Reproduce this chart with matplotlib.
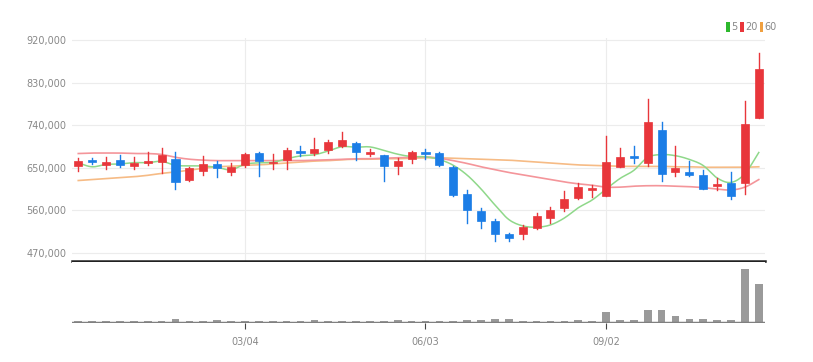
import matplotlib
matplotlib.use("Agg")
import matplotlib.pyplot as plt
from matplotlib.patches import Rectangle
import numpy as np
import pandas as pd

plt.rcParams['font.family'] = ['Liberation Sans Narrow', 'DejaVu Sans']

# weekly candles, prices in thousands of won
opens = [654, 666, 655, 667, 654, 659, 662, 668, 624, 644,
         657, 641, 656, 682, 659, 666, 685, 682, 688, 695,
         702, 678, 677, 654, 668, 684, 682, 652, 594, 559,
         537, 509, 509, 523, 543, 566, 587, 603, 590, 652,
         674, 660, 730, 640, 640, 635, 612, 617, 618, 754]
closes = [665, 662, 662, 655, 660, 664, 677, 619, 650, 658,
          650, 651, 678, 665, 663, 688, 681, 690, 705, 708,
          683, 684, 653, 665, 683, 680, 656, 592, 561, 537,
          511, 502, 525, 547, 561, 584, 610, 607, 662, 673,
          670, 747, 637, 650, 634, 605, 616, 590, 742, 858]
highs = [671, 670, 673, 677, 673, 683, 691, 684, 652, 675,
         664, 660, 681, 684, 680, 691, 695, 712, 709, 725,
         705, 689, 677, 670, 686, 689, 683, 653, 602, 566,
         541, 513, 529, 555, 568, 600, 617, 614, 718, 691,
         695, 795, 747, 695, 665, 645, 628, 640, 790, 893]
lows = [644, 657, 648, 652, 647, 655, 638, 605, 623, 635,
        631, 635, 652, 633, 647, 647, 675, 677, 681, 693,
        666, 675, 623, 637, 659, 668, 654, 590, 534, 522,
        496, 496, 499, 520, 533, 559, 583, 589, 590, 651,
        661, 654, 623, 633, 633, 605, 604, 585, 594, 754]

# moving averages (20 and 60 need history before the window)
ma5_head = [660, 652, 657, 658]
ma20 = [680, 681, 681, 681, 680, 680, 678, 672, 668, 666,
        665, 665, 665, 665, 665, 665, 665, 666, 667, 668,
        669, 669, 670, 671, 672, 673, 670, 665, 659, 652,
        646, 640, 635, 630, 625, 620, 616, 613, 609, 609,
        611, 612, 612, 611, 610, 608, 605, 603, 609, 625]
ma60 = [623, 625, 627, 629, 631, 634, 638, 641, 645, 649,
        652, 653, 655, 656, 658, 660, 662, 664, 665, 667,
        668, 668, 669, 669, 670, 671, 671, 670, 669, 668,
        667, 666, 664, 662, 660, 658, 656, 655, 654, 653,
        653, 653, 653, 652, 652, 651, 651, 651, 651, 652]

# volume, relative units
volume = [4, 4, 4, 4, 4, 4, 4.4, 7.5, 3, 4,
          5, 4, 4, 4, 4, 4.4, 4, 5, 4, 4,
          4, 4, 3, 5, 4, 4, 3, 4, 5, 5,
          7.5, 7.5, 4, 4, 4, 4, 5, 4, 20, 5,
          5, 25, 25, 13, 7.5, 7.5, 5, 5, 100, 73]

tick_pos = [12, 25, 38]
tick_labels = ['03/04', '06/03', '09/02']

up_color = '#e8363b'
down_color = '#1b7de6'
c5 = '#8fd88a'
c20 = '#f4959a'
c60 = '#f6bb85'

ma5 = pd.Series(closes).rolling(5).mean().to_numpy()
ma5[:4] = ma5_head

x = np.arange(len(closes))


def smooth(xs, ys, n=8):
    # catmull-rom curve through the points, only for drawing
    xs = np.asarray(xs, float)
    ys = np.asarray(ys, float)
    px = np.concatenate([[2 * xs[0] - xs[1]], xs, [2 * xs[-1] - xs[-2]]])
    py = np.concatenate([[2 * ys[0] - ys[1]], ys, [2 * ys[-1] - ys[-2]]])
    t = np.linspace(0, 1, n, endpoint=False)
    outx, outy = [], []
    for k in range(1, len(px) - 2):
        for p, out in ((px, outx), (py, outy)):
            p0, p1, p2, p3 = p[k - 1], p[k], p[k + 1], p[k + 2]
            out.extend(0.5 * (2 * p1 + (-p0 + p2) * t + (2 * p0 - 5 * p1 + 4 * p2 - p3) * t ** 2
                              + (-p0 + 3 * p1 - 3 * p2 + p3) * t ** 3))
    outx.append(xs[-1])
    outy.append(ys[-1])
    return outx, outy


fig = plt.figure(figsize=(8.13, 3.62), dpi=100)
ax = fig.add_axes([0.0886, 0.279, 0.8524, 0.616])
axv = fig.add_axes([0.0886, 0.1077, 0.8524, 0.1683])

ax.plot(*smooth(x, ma60), color=c60, lw=1.2, zorder=2)
ax.plot(*smooth(x, ma20), color=c20, lw=1.2, zorder=2)
ax.plot(*smooth(x, ma5), color=c5, lw=1.1, zorder=2)

w = 0.58
for i in x:
    o, c, h, l = opens[i], closes[i], highs[i], lows[i]
    col = up_color if c >= o else down_color
    ax.plot([i, i], [l, h], color=col, lw=1, zorder=3)
    bottom = min(o, c)
    height = max(abs(c - o), 2)
    ax.add_patch(Rectangle((i - w / 2, bottom), w, height, facecolor=col,
                           edgecolor=col, lw=0.5, zorder=4))

ax.set_xlim(-0.45, 49.45)
ax.set_ylim(453, 924)
ax.set_yticks([470, 560, 650, 740, 830, 920])
ax.set_yticklabels(['470,000', '560,000', '650,000', '740,000', '830,000', '920,000'])
ax.set_xticks(tick_pos)
ax.tick_params(axis='x', length=0, labelbottom=False)
ax.tick_params(axis='y', length=0, labelsize=7, colors='#888888', pad=4)
ax.grid(True, color='#ececec', lw=0.8, zorder=0)
for s in ['top', 'right', 'left']:
    ax.spines[s].set_visible(False)
ax.spines['bottom'].set_color('#222222')
ax.spines['bottom'].set_linewidth(1.8)

axv.bar(x, volume, width=0.55, color='#9a9a9a', zorder=2)
axv.axhline(0, color='#808080', lw=2.5, zorder=3)
axv.set_xlim(-0.45, 49.45)
axv.set_ylim(0, 113)
axv.set_yticks([])
axv.set_xticks(tick_pos)
axv.set_xticklabels(tick_labels)
axv.tick_params(axis='x', length=4, width=0.8, color='#444444', labelsize=7,
                labelcolor='#888888', pad=6)
for s in ['top', 'right', 'left', 'bottom']:
    axv.spines[s].set_visible(False)

# legend in top right
items = [('5', '#2db82d'), ('20', '#e8363b'), ('60', '#f0a040')]
lx = 0.893
for lab, col in items:
    fig.patches.append(Rectangle((lx, 0.912), 0.0045, 0.026, transform=fig.transFigure,
                                 facecolor=col, edgecolor='none'))
    fig.text(lx + 0.006, 0.925, lab, fontsize=7, color='#888888', va='center')
    lx += 0.006 + 0.0065 * len(lab) + 0.005

fig.savefig('out.png', dpi=100)
